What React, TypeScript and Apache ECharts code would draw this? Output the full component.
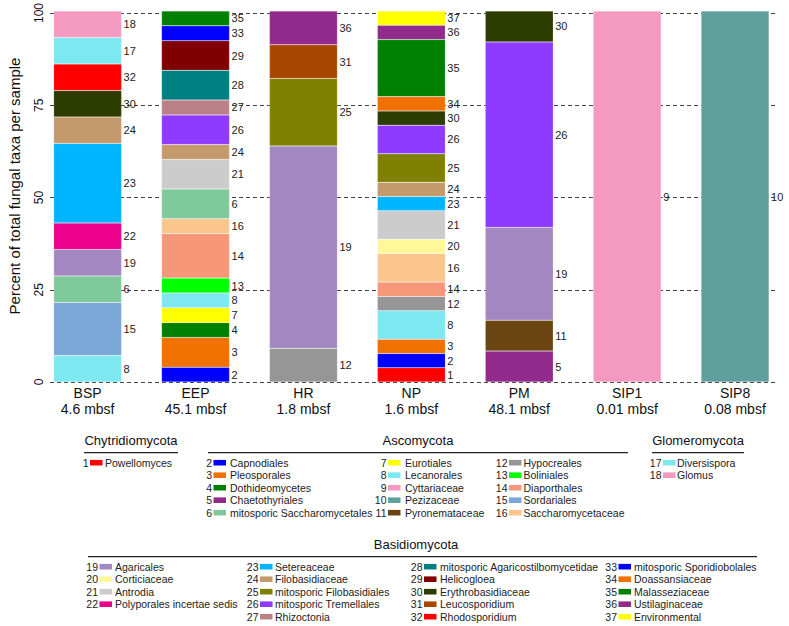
import React, { useEffect, useRef } from "react";
import * as echarts from "echarts";

const FONT = "'Liberation Sans', Arial, Helvetica, sans-serif";

// ---------- Data ----------
const samples = ["BSP", "EEP", "HR", "NP", "PM", "SIP1", "SIP8"];
const depths = ["4.6 mbsf", "45.1 mbsf", "1.8 mbsf", "1.6 mbsf", "48.1 mbsf", "0.01 mbsf", "0.08 mbsf"];

// taxa per sample, bottom to top, with number of taxa (counts) of each
const bspTaxa = [8, 15, 6, 19, 22, 23, 24, 30, 32, 17, 18];
const bspCounts = [1, 2, 1, 1, 1, 3, 1, 1, 1, 1, 1];
const eepTaxa = [2, 3, 4, 7, 8, 13, 14, 16, 6, 21, 24, 26, 27, 28, 29, 33, 35];
const eepCounts = [1, 2, 1, 1, 1, 1, 3, 1, 2, 2, 1, 2, 1, 2, 2, 1, 1];
const hrTaxa = [12, 19, 25, 31, 36];
const hrCounts = [1, 6, 2, 1, 1];
const npTaxa = [1, 2, 3, 8, 12, 14, 16, 20, 21, 23, 24, 25, 26, 30, 34, 35, 36, 37];
const npCounts = [1, 1, 1, 2, 1, 1, 2, 1, 2, 1, 1, 2, 2, 1, 1, 4, 1, 1];
const pmTaxa = [5, 11, 19, 26, 30];
const pmCounts = [1, 1, 3, 6, 1];
const sip1Taxa = [9];
const sip1Counts = [1];
const sip8Taxa = [10];
const sip8Counts = [1];

// taxon id = index + 1
const taxonNames = [
  "Powellomyces", "Capnodiales", "Pleosporales", "Dothideomycetes", "Chaetothyriales",
  "mitosporic Saccharomycetales", "Eurotiales", "Lecanorales", "Cyttariaceae", "Pezizaceae",
  "Pyronemataceae", "Hypocreales", "Boliniales", "Diaporthales", "Sordariales",
  "Saccharomycetaceae", "Diversispora", "Glomus", "Agaricales", "Corticiaceae",
  "Antrodia", "Polyporales incertae sedis", "Setereaceae", "Filobasidiaceae", "mitosporic Filobasidiales",
  "mitosporic Tremellales", "Rhizoctonia", "mitosporic Agaricostilbomycetidae", "Helicogloea", "Erythrobasidiaceae",
  "Leucosporidium", "Rhodosporidium", "mitosporic Sporidiobolales", "Doassansiaceae", "Malasseziaceae",
  "Ustilaginaceae", "Environmental",
];
const taxonColors = [
  "#FF0000", "#0000FF", "#F07000", "#008000", "#912A8A",
  "#80C99B", "#FFFF00", "#7DE8F0", "#F49AC1", "#5F9F9D",
  "#6B4511", "#969696", "#00FF00", "#F7977A", "#7BA6D8",
  "#FBC58C", "#7DE8F0", "#F49AC1", "#A387C1", "#FFF79A",
  "#CCCCCC", "#EC008C", "#00B5FF", "#C49A6C", "#808000",
  "#8E3BFF", "#BC8088", "#008080", "#800000", "#2D3D00",
  "#A84700", "#FF0000", "#0000FF", "#F07000", "#008000",
  "#912A8A", "#FFFF00",
];

const chytridIds = [1];
const ascoCol1 = [2, 3, 4, 5, 6];
const ascoCol2 = [7, 8, 9, 10, 11];
const ascoCol3 = [12, 13, 14, 15, 16];
const glomIds = [17, 18];
const basidioCol1 = [19, 20, 21, 22];
const basidioCol2 = [23, 24, 25, 26, 27];
const basidioCol3 = [28, 29, 30, 31, 32];
const basidioCol4 = [33, 34, 35, 36, 37];

const sampleTaxa = [bspTaxa, eepTaxa, hrTaxa, npTaxa, pmTaxa, sip1Taxa, sip8Taxa];
const sampleCounts = [bspCounts, eepCounts, hrCounts, npCounts, pmCounts, sip1Counts, sip8Counts];

// ---------- Legend layout ----------
const legendLayout = [
  { title: "Chytridiomycota", titleX: 131, lineX1: 84, lineX2: 178, lineY: 452.7,
    columns: [{ ids: chytridIds, rectX: 90, textX: 105 }] },
  { title: "Ascomycota", titleX: 418, lineX1: 208, lineX2: 628, lineY: 452.7,
    columns: [
      { ids: ascoCol1, rectX: 213.5, textX: 230 },
      { ids: ascoCol2, rectX: 388, textX: 405 },
      { ids: ascoCol3, rectX: 509, textX: 523.5 },
    ] },
  { title: "Glomeromycota", titleX: 698, lineX1: 652, lineX2: 744, lineY: 452.7,
    columns: [{ ids: glomIds, rectX: 663, textX: 677 }] },
  { title: "Basidiomycota", titleX: 416, lineX1: 88, lineX2: 757, lineY: 556.7,
    columns: [
      { ids: basidioCol1, rectX: 99.5, textX: 115 },
      { ids: basidioCol2, rectX: 260, textX: 275 },
      { ids: basidioCol3, rectX: 424, textX: 440 },
      { ids: basidioCol4, rectX: 618.5, textX: 634 },
    ] },
];

function buildLegend() {
  const els: any[] = [];
  legendLayout.forEach((g) => {
    els.push({
      type: "text", x: g.titleX, y: g.lineY - 12,
      style: { text: g.title, fontSize: 13, fontFamily: FONT, fill: "#111", align: "center", verticalAlign: "middle" },
    });
    els.push({
      type: "line", shape: { x1: g.lineX1, y1: g.lineY, x2: g.lineX2, y2: g.lineY },
      style: { stroke: "#222", lineWidth: 1.2 },
    });
    g.columns.forEach((c) => {
      c.ids.forEach((id, r) => {
        const y = g.lineY + 10 + r * 12.5;
        els.push({
          type: "text", x: c.rectX - 1.5, y,
          style: { text: String(id), fontSize: 10.5, fontFamily: FONT, fill: "#222", align: "right", verticalAlign: "middle" },
        });
        els.push({
          type: "rect", shape: { x: c.rectX, y: y - 2.8, width: 12.5, height: 5.6 },
          style: { fill: taxonColors[id - 1] },
        });
        els.push({
          type: "text", x: c.textX, y,
          style: { text: taxonNames[id - 1], fontSize: 10.5, fontFamily: FONT, fill: "#222", align: "left", verticalAlign: "middle" },
        });
      });
    });
  });
  els.push({
    type: "text", x: 14, y: 186, rotation: Math.PI / 2,
    style: { text: "Percent of total fungal taxa per sample", fontSize: 15, fontFamily: FONT, fill: "#111", align: "center", verticalAlign: "middle" },
  });
  return els;
}

function buildSeries() {
  const maxLevels = Math.max(...sampleTaxa.map((t) => t.length));
  const series: any[] = [];
  for (let k = 0; k < maxLevels; k++) {
    series.push({
      type: "bar",
      name: "level" + k,
      xAxisIndex: 1,
      yAxisIndex: 1,
      stack: "total",
      barWidth: 68,
      data: samples.map((_, i) => {
        const t = sampleTaxa[i][k];
        if (t === undefined) return null;
        const total = sampleCounts[i].reduce((a, b) => a + b, 0);
        return {
          value: (sampleCounts[i][k] / total) * 100,
          taxon: t,
          itemStyle: { color: taxonColors[t - 1] },
        };
      }),
      itemStyle: { borderColor: "rgba(255,255,255,0.35)", borderWidth: 0.5 },
      label: {
        show: true,
        position: "right",
        distance: 2,
        fontSize: 11,
        fontFamily: FONT,
        color: "#222",
        formatter: (p: any) => (p.data && p.data.taxon !== undefined ? String(p.data.taxon) : ""),
      },
      emphasis: { disabled: true },
    });
  }
  return series;
}

export default function App() {
  const ref = useRef<HTMLDivElement>(null);
  useEffect(() => {
    if (!ref.current) return;
    const chart = echarts.init(ref.current, undefined, { renderer: "svg" });
    chart.setOption({
      animation: false,
      backgroundColor: "#ffffff",
      textStyle: { fontFamily: FONT },
      grid: [
        { left: 50, top: 11, width: 725, height: 371 },
        { left: 33.67, top: 11, width: 760.7, height: 371 },
      ],
      xAxis: [
        { type: "value", gridIndex: 0, show: false, min: 0, max: 1 },
        {
          type: "category",
          gridIndex: 1,
          data: samples.map((s, i) => s + "\n" + depths[i]),
          axisLine: { show: false },
          axisTick: { show: false },
          axisLabel: { fontSize: 14, fontFamily: FONT, color: "#111", margin: 3, lineHeight: 16 },
        },
      ],
      yAxis: [
        {
          type: "value",
          gridIndex: 0,
          min: 0,
          max: 100,
          interval: 25,
          axisLine: { show: false },
          axisTick: { show: false },
          axisLabel: { rotate: 90, fontSize: 12, fontFamily: FONT, color: "#111", margin: 5 },
          splitLine: { show: true, lineStyle: { type: [4, 3], color: "#444", width: 1 } },
        },
        { type: "value", gridIndex: 1, min: 0, max: 100, show: false, splitLine: { show: false } },
      ],
      series: buildSeries(),
      graphic: buildLegend(),
    });
    return () => chart.dispose();
  }, []);
  return (
    <div
      ref={ref}
      style={{ position: "fixed", left: 0, top: 0, width: 789, height: 626, background: "#fff" }}
    />
  );
}
